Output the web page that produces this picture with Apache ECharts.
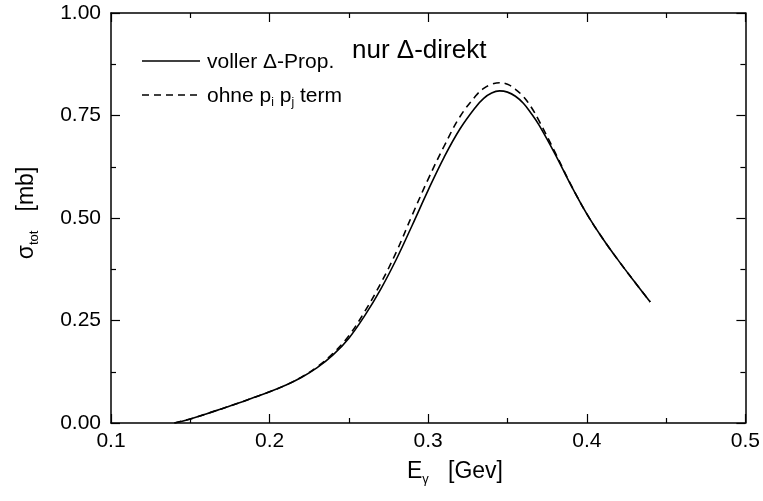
<!DOCTYPE html>
<html><head><meta charset="utf-8">
<script src="https://cdn.jsdelivr.net/npm/echarts@6/dist/echarts.min.js"></script>
<style>html,body{margin:0;padding:0;background:#fff}#c{width:763px;height:501px}</style>
</head><body><div id="c"></div>
<script>
const xTicks = [0.1, 0.2, 0.3, 0.4, 0.5];
const yTicks = [0.00, 0.25, 0.50, 0.75, 1.00];
const energy = [0.14,0.15,0.16,0.17,0.18,0.19,0.20,0.21,0.22,0.23,0.24,0.25,0.26,0.27,0.28,0.29,0.30,0.31,0.32,0.33,0.335,0.34,0.345,0.35,0.355,0.36,0.365,0.37,0.38,0.39,0.40,0.41,0.42,0.43,0.44];
const sigmaFull = [0,0.010,0.022,0.035,0.048,0.062,0.076,0.092,0.111,0.135,0.166,0.207,0.262,0.326,0.400,0.483,0.568,0.648,0.717,0.771,0.792,0.805,0.810,0.807,0.797,0.780,0.755,0.726,0.656,0.580,0.510,0.450,0.396,0.345,0.295];
const sigmaNoPP = [0,0.010,0.022,0.035,0.048,0.062,0.076,0.092,0.112,0.137,0.170,0.213,0.272,0.340,0.418,0.508,0.595,0.675,0.747,0.798,0.816,0.826,0.830,0.826,0.814,0.796,0.770,0.736,0.660,0.581,0.510,0.450,0.396,0.345,0.295];

const full = energy.map((x,i)=>[x,sigmaFull[i]]);
const nopp = energy.map((x,i)=>[x,sigmaNoPP[i]]);
const F = 'Liberation Sans, Arial, sans-serif';
const axisCommon = {
  type:'value', splitLine:{show:false},
  axisLine:{show:true,onZero:false,lineStyle:{color:'#000',width:1.5}},
  axisTick:{show:true,inside:true,length:9,lineStyle:{color:'#000',width:1.2}},
  minorTick:{show:true,splitNumber:2,length:5,lineStyle:{color:'#000',width:1.2}}
};
const chart = echarts.init(document.getElementById('c'),null,{renderer:'canvas'});
chart.setOption({
  animation:false,
  backgroundColor:'#fff',
  grid:{left:111,right:15,top:13,bottom:78},
  xAxis:[
    Object.assign({},axisCommon,{min:xTicks[0],max:xTicks[xTicks.length-1],interval:0.1,position:'bottom',
      axisLabel:{color:'#000',fontFamily:F,fontSize:21,margin:8,formatter:v=>String(+v.toFixed(1))}}),
    Object.assign({},axisCommon,{min:xTicks[0],max:xTicks[xTicks.length-1],interval:0.1,position:'top',axisLabel:{show:false}})
  ],
  yAxis:[
    Object.assign({},axisCommon,{min:yTicks[0],max:yTicks[yTicks.length-1],interval:0.25,position:'left',
      axisLabel:{color:'#000',fontFamily:F,fontSize:21,margin:10,formatter:v=>v.toFixed(2)}}),
    Object.assign({},axisCommon,{min:yTicks[0],max:yTicks[yTicks.length-1],interval:0.25,position:'right',axisLabel:{show:false}})
  ],
  series:[
    {name:'voller',type:'line',data:full,showSymbol:false,smooth:0.4,lineStyle:{color:'#000',width:1.6}},
    {name:'ohne',type:'line',data:nopp,showSymbol:false,smooth:0.4,lineStyle:{color:'#000',width:1.6,type:[7,5]}}
  ],
  graphic:[
    {type:'line',shape:{x1:142,y1:61,x2:200,y2:61},style:{stroke:'#000',lineWidth:1.5}},
    {type:'line',shape:{x1:142,y1:95,x2:200,y2:95},style:{stroke:'#000',lineWidth:1.5,lineDash:[7,5]}},
    {type:'text',x:207,y:62,style:{text:'voller Δ-Prop.',fontFamily:F,fontSize:21,fill:'#000',verticalAlign:'middle'}},
    {type:'text',x:352,y:51,style:{text:'nur Δ-direkt',fontFamily:F,fontSize:26,fill:'#000',verticalAlign:'middle'}},
    {type:'text',x:207,y:96,style:{text:'ohne p{s|i} p{s|j} term',fontFamily:F,fontSize:21,fill:'#000',verticalAlign:'middle',
      rich:{s:{fontFamily:F,fontSize:12,padding:[13,0,0,0],fill:'#000'}}}},
    {type:'text',x:455,y:472,style:{text:'E{s|γ}   [Gev]',fontFamily:F,fontSize:23,fill:'#000',align:'center',verticalAlign:'middle',
      rich:{s:{fontFamily:F,fontSize:13,padding:[14,0,0,0],fill:'#000'}}}},
    {type:'text',x:27,y:213,rotation:Math.PI/2,style:{text:'σ{s|tot}   [mb]',fontFamily:F,fontSize:23,fill:'#000',align:'center',verticalAlign:'middle',
      rich:{s:{fontFamily:F,fontSize:13,padding:[14,0,0,0],fill:'#000'}}}}
  ]
});
</script></body></html>
